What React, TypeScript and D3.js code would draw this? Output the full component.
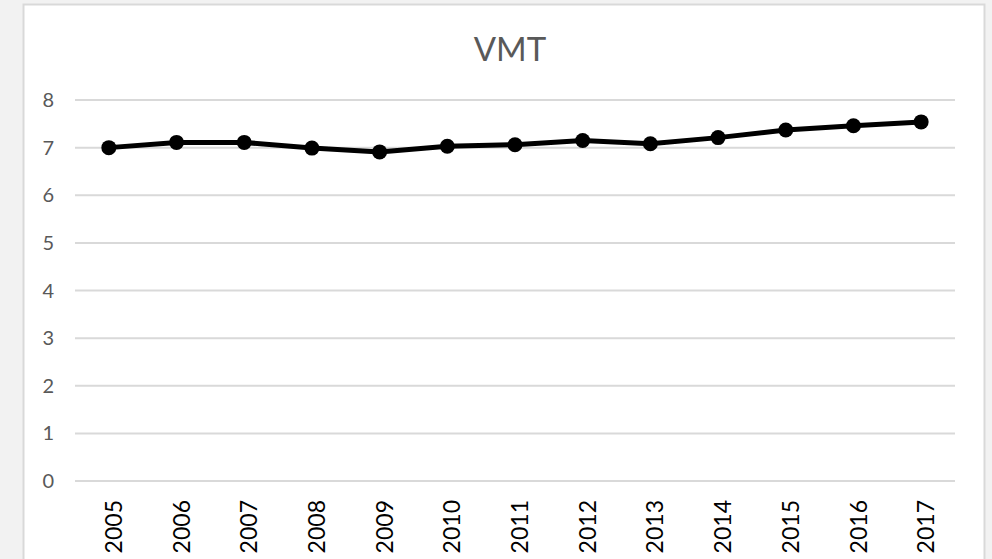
import React from 'react';
import * as d3 from 'd3';

const years = ['2005', '2006', '2007', '2008', '2009', '2010', '2011', '2012', '2013', '2014', '2015', '2016', '2017'];
const vmt = [7.0, 7.11, 7.11, 6.99, 6.91, 7.03, 7.06, 7.15, 7.08, 7.21, 7.37, 7.46, 7.54];
const yTicks = [0, 1, 2, 3, 4, 5, 6, 7, 8];
const title = 'VMT';

const W = 992;
const H = 559;

export default function App() {
  const x = d3.scaleBand<string>().domain(years).range([75, 955]);
  const y = d3.scaleLinear().domain([0, 8]).range([481, 100]);
  const cx = (d: string) => (x(d) ?? 0) + x.bandwidth() / 2;

  const line = d3.line<number>()
    .x((_, i) => cx(years[i]))
    .y(d => y(d));

  return (
    <svg width={W} height={H} style={{ position: 'absolute', left: 0, top: 0, background: '#f2f2f2' }}
      fontFamily="Lato, 'Open Sans', sans-serif">
      {/* chart area */}
      <rect x={23.5} y={4.5} width={961} height={H} fill="#fff" stroke="#d9d9d9" strokeWidth={2} />

      <text x={510} y={61} textAnchor="middle" fontSize={33} fill="#595959">{title}</text>

      {/* gridlines + y labels */}
      {yTicks.map(t => (
        <g key={t}>
          <line x1={75} x2={955} y1={y(t)} y2={y(t)} stroke="#d9d9d9" strokeWidth={2} />
          <text x={54} y={y(t)} dy="0.35em" textAnchor="end" fontSize={20} fill="#595959">{t}</text>
        </g>
      ))}

      {/* x labels, rotated */}
      {years.map(d => (
        <text key={d} transform={`translate(${cx(d) + 5},500) rotate(-90)`} textAnchor="end" dy="0.35em"
          fontSize={23} fill="#000">{d}</text>
      ))}

      <path d={line(vmt) ?? ''} fill="none" stroke="#000" strokeWidth={5} strokeLinejoin="round" />
      {vmt.map((v, i) => (
        <circle key={years[i]} cx={cx(years[i])} cy={y(v)} r={7.5} fill="#000" />
      ))}
    </svg>
  );
}
